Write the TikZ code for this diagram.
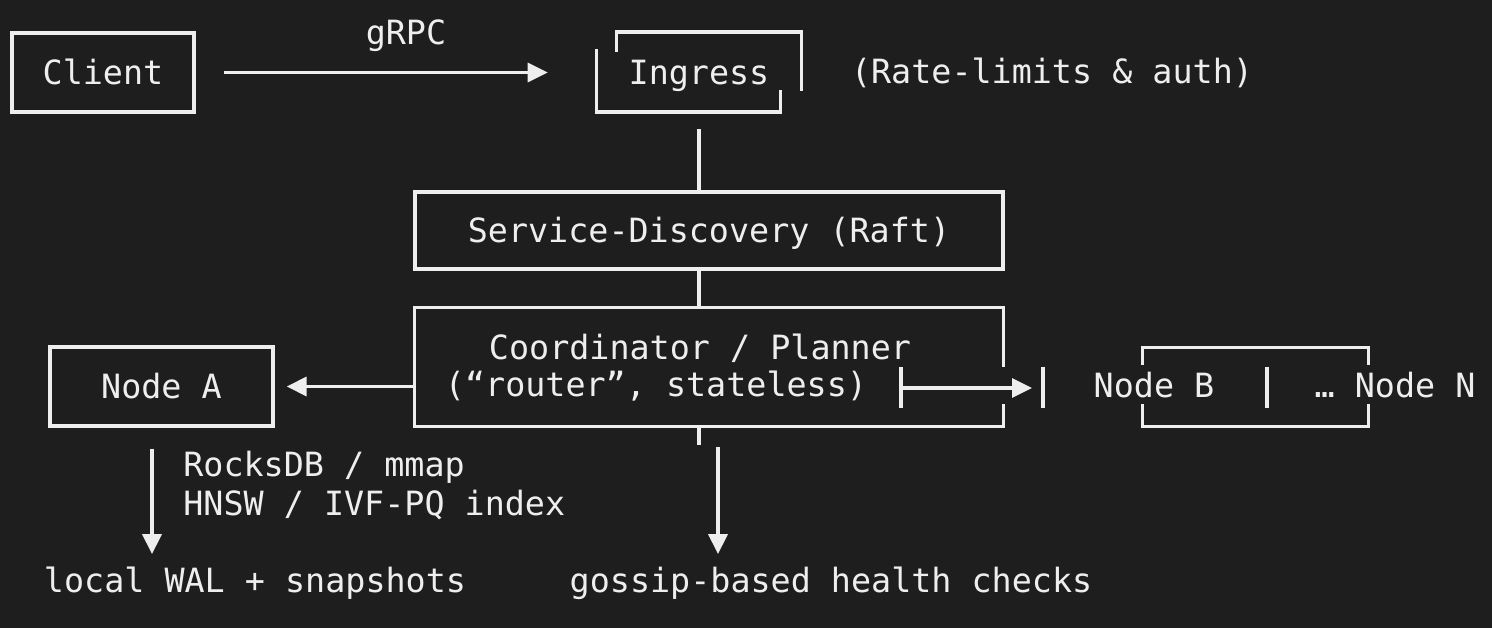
\documentclass[tikz,border=0pt]{standalone}
\usepackage{fontspec}
\setmainfont{DejaVu Sans Mono}
\usetikzlibrary{arrows.meta, positioning, calc}
\definecolor{bg1}{RGB}{30, 30, 30}
\definecolor{fg1}{RGB}{238, 238, 238}

\begin{document}
\begin{tikzpicture}[
    x=0.02cm, y=-0.02cm,
    every node/.style={font=\fontsize{19}{23}\selectfont, text=fg1, inner sep=0pt},
    box/.style={rectangle, draw=fg1, line width=1.9pt, text height=13.9pt, text depth=0pt, minimum height=1.58cm},
    frame/.style={rectangle, text height=13.9pt, text depth=0pt, minimum height=1.58cm},
    lbl/.style={anchor=base},
    wire/.style={draw=fg1, line width=1.9pt},
    arr/.style={wire, -{Triangle[length=0.4cm, width=0.38cm]}},
  ]

  % Background
  \fill[bg1] (0,0) rectangle (1492,628);
  \useasboundingbox (0,0) rectangle (1492,628);

  % Top row
  \node[box, minimum width=3.64cm] (client) at (103,72.5) {Client};
  \node[frame, minimum width=4.08cm] (ingress) at (699,72) {Ingress};
  \node[lbl] (note) at (1052,84) {(Rate-limits \& auth)};
  \node[lbl] (grpc) at (406,45) {gRPC};

  % Middle
  \node[box, minimum width=11.76cm, minimum height=1.54cm] (sd) at (709,230.5) {Service-Discovery (Raft)};
  \node[frame, minimum width=11.76cm, minimum height=2.36cm] (coord) at (709,367) {};
  \node[lbl] (coordA) at (700,359) {Coordinator / Planner};
  \node[lbl] (coordB) at (656,397) {(“router”, stateless)};

  % Bottom row
  \node[box, minimum width=4.46cm] (nodeA) at (161.5,386.5) {Node A};
  \node[frame, minimum width=4.5cm, minimum height=1.56cm] (nodes) at (1255.5,387) {};
  \node[lbl] (nodeB) at (1154,398) {Node B};
  \node[lbl] (nodeN) at (1395,398) {… Node N};
  \coordinate (tick) at (901,388);
  \coordinate (bar) at (1043,388);
  \coordinate (sep) at (1267,388);

  \node[lbl, anchor=base west] (rocks) at (183,477) {RocksDB / mmap};
  \node[lbl, anchor=base west] (hnsw) at (183,515) {HNSW / IVF-PQ index};
  \node[lbl] (wal) at (255,592) {local WAL + snapshots};
  \node[lbl] (gossip) at (831,592) {gossip-based health checks};

  % Ingress brackets
  \draw[wire] ($(ingress.north west)+(20,20)$) -- ++(0,-20) -- (ingress.north east) -- ++(0,59);
  \draw[wire] ($(ingress.north west)+(0,17)$) -- (ingress.south west) -- ++(184,0) -- ++(0,-22);

  % Coordinator border, open where the arrow leaves
  \draw[wire] ($(coord.north east)+(0,59)$) -- (coord.north east) -- (coord.north west)
    -- (coord.south west) -- (coord.south east) -- ++(0,-22);

  % Node B ... Node N brackets
  \draw[wire] ($(nodes.north west)+(0,17)$) -- (nodes.north west) -- (nodes.north east) -- ++(0,17);
  \draw[wire] ($(nodes.south west)+(0,-22)$) -- (nodes.south west) -- (nodes.south east) -- ++(0,-22);
  \draw[wire] ($(sep)+(0,-21)$) -- ($(sep)+(0,20)$);

  % Connectors
  \draw[arr, shorten <=0.56cm, shorten >=0.98cm] (client.east) -- (client.east -| ingress.west);
  \draw[wire, shorten <=0.34cm] (ingress.south) -- (ingress.south |- sd.north);
  \draw[wire] (ingress.south |- sd.south) -- (ingress.south |- coord.north);
  \draw[wire] (ingress.south |- coord.south) -- ++(0,19);
  \draw[arr, shorten >=0.24cm] (coord.west |- nodeA.east) -- (nodeA.east);
  \draw[wire] ($(tick)+(0,-21)$) -- ($(tick)+(0,20)$);
  \draw[wire] ($(bar)+(0,-21)$) -- ($(bar)+(0,20)$);
  \draw[arr, shorten >=0.22cm] (tick) -- (bar);
  \draw[arr, shorten <=0.42cm, shorten >=0.24cm] ([xshift=-0.19cm]nodeA.south) -- ([xshift=-0.19cm]nodeA.south |- wal.north);
  \draw[arr, shorten <=0.42cm, shorten >=0.24cm] ([xshift=0.18cm]coord.south) -- ([xshift=0.18cm]coord.south |- gossip.north);

\end{tikzpicture}
\end{document}
